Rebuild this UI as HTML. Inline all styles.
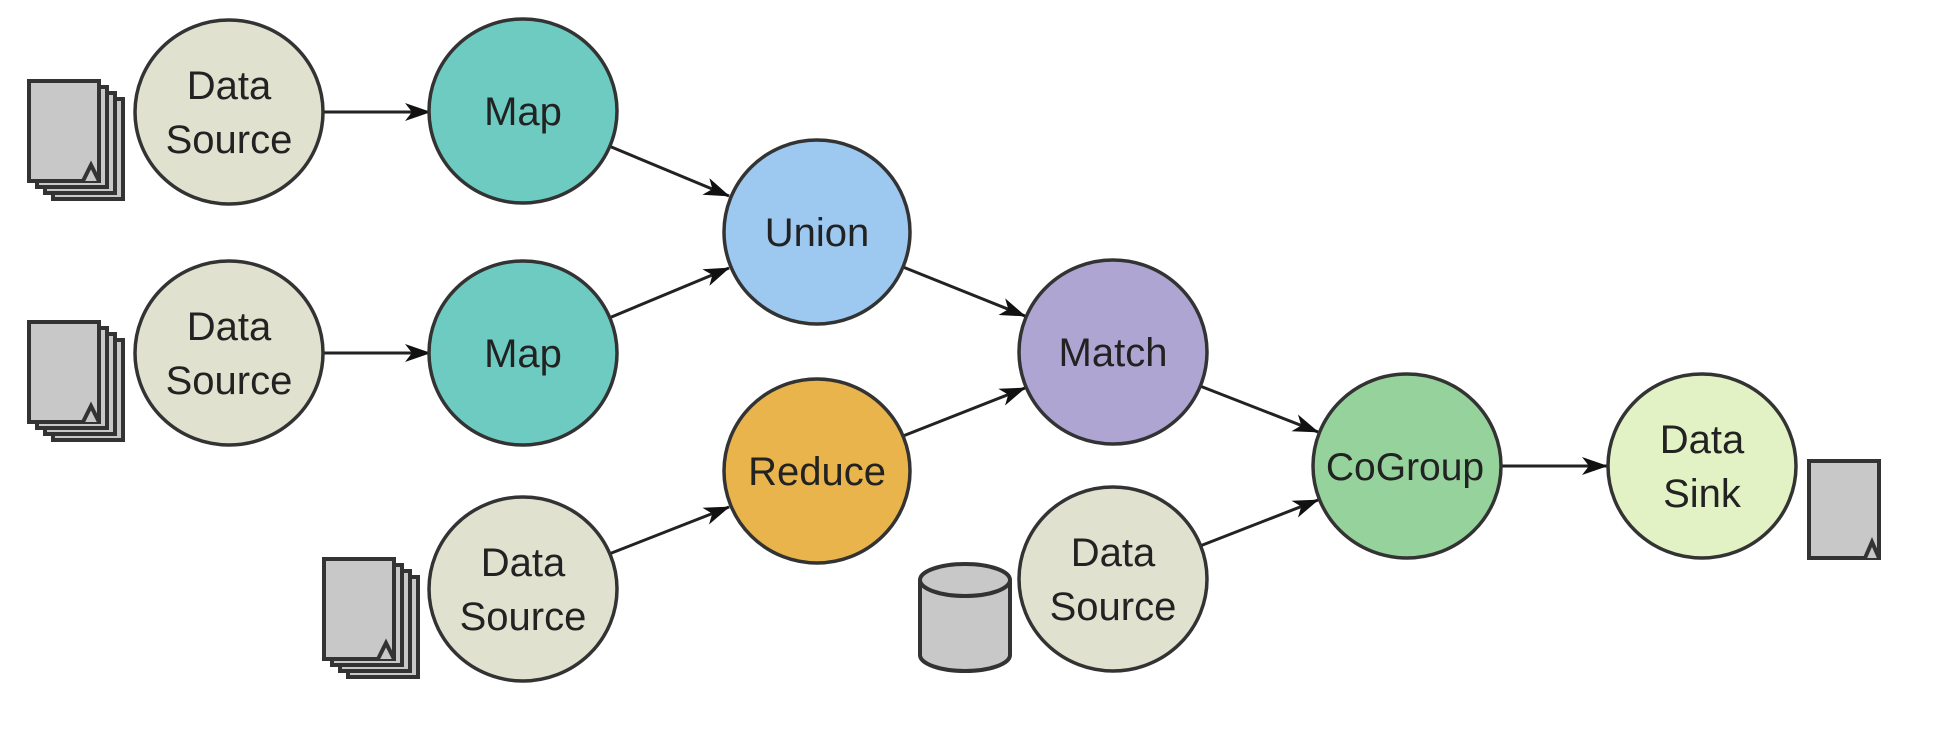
<!DOCTYPE html>
<html><head><meta charset="utf-8"><style>
html,body{margin:0;padding:0;background:#fff;}
svg{display:block;}
text{font-family:"Liberation Sans",sans-serif;font-size:40px;fill:#222;text-anchor:middle;}
</style></head><body>
<svg width="1940" height="738" viewBox="0 0 1940 738" xmlns="http://www.w3.org/2000/svg">
<defs>
<marker id="a" markerWidth="26" markerHeight="18" refX="25" refY="9" orient="auto" markerUnits="userSpaceOnUse" viewBox="0 0 26 18">
<path d="M0,0 L26,9 L0,18 L7,9 Z" fill="#111"/>
</marker>
<g id="stack">
<g fill="#c8c8c8" stroke="#333" stroke-width="4">
<rect x="24" y="18" width="70" height="100"/>
<rect x="16" y="12" width="70" height="100"/>
<rect x="8" y="6" width="70" height="100"/>
<rect x="0" y="0" width="70" height="100"/>
<path d="M54,100 L62,84 L70,100"/>
</g>
</g>
</defs>
<g stroke="#222" stroke-width="3" fill="none" marker-end="url(#a)">
<line x1="323" y1="112" x2="430" y2="112"/>
<line x1="323" y1="353" x2="430" y2="353"/>
<line x1="609" y1="146" x2="729" y2="196"/>
<line x1="609" y1="318" x2="729" y2="268"/>
<line x1="609" y1="554" x2="729" y2="507"/>
<line x1="903" y1="267" x2="1025" y2="316"/>
<line x1="903" y1="436" x2="1025" y2="388"/>
<line x1="1200" y1="386" x2="1318" y2="432"/>
<line x1="1200" y1="546" x2="1318" y2="500"/>
<line x1="1500" y1="466" x2="1607" y2="466"/>
</g>
<g stroke="#333" stroke-width="3.5">
<ellipse cx="229" cy="112" rx="94" ry="92" fill="#e0e2cf"/>
<ellipse cx="229" cy="353" rx="94" ry="92" fill="#e0e2cf"/>
<ellipse cx="523" cy="111" rx="94" ry="92" fill="#6ecbc2"/>
<ellipse cx="523" cy="353" rx="94" ry="92" fill="#6ecbc2"/>
<ellipse cx="817" cy="232" rx="93" ry="92" fill="#9dc8f0"/>
<ellipse cx="817" cy="471" rx="93" ry="92" fill="#e9b44c"/>
<ellipse cx="523" cy="589" rx="94" ry="92" fill="#e0e2cf"/>
<ellipse cx="1113" cy="352" rx="94" ry="92" fill="#afa5d3"/>
<ellipse cx="1113" cy="579" rx="94" ry="92" fill="#e0e2cf"/>
<ellipse cx="1407" cy="466" rx="94" ry="92" fill="#96d39c"/>
<ellipse cx="1702" cy="466" rx="94" ry="92" fill="#e3f2c4"/>
</g>
<text x="229" y="99">Data</text><text x="229" y="153">Source</text>
<text x="229" y="340">Data</text><text x="229" y="394">Source</text>
<text x="523" y="576">Data</text><text x="523" y="630">Source</text>
<text x="1113" y="566">Data</text><text x="1113" y="620">Source</text>
<text x="523" y="125">Map</text>
<text x="523" y="367">Map</text>
<text x="817" y="246">Union</text>
<text x="817" y="485">Reduce</text>
<text x="1113" y="366">Match</text>
<text x="1405" y="480" style="font-size:39px">CoGroup</text>
<text x="1702" y="453">Data</text><text x="1702" y="507">Sink</text>
<use href="#stack" x="29" y="81"/>
<use href="#stack" x="29" y="322"/>
<use href="#stack" x="324" y="559"/>
<g fill="#c8c8c8" stroke="#333" stroke-width="4">
<rect x="1809" y="461" width="70" height="97"/>
<path d="M1865,558 L1872,542 L1879,558"/>
<path d="M920,580 L920,655 A45,16 0 0 0 1010,655 L1010,580"/>
<ellipse cx="965" cy="580" rx="45" ry="16"/>
</g>
</svg>
</body></html>
